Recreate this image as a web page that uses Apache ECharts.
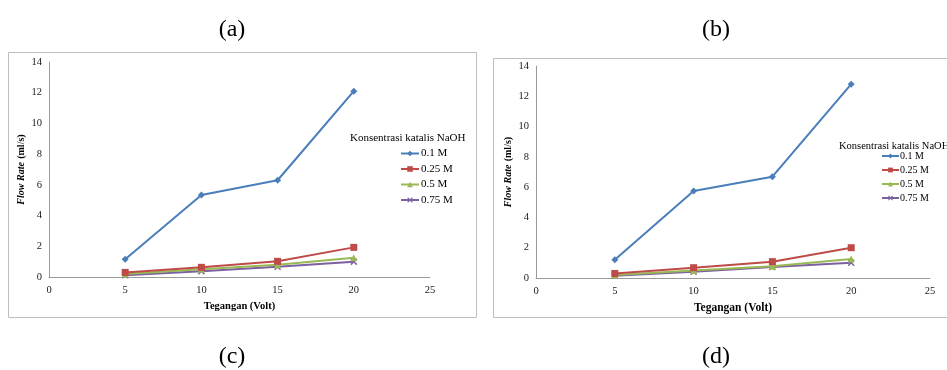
<!DOCTYPE html>
<html>
<head>
<meta charset="utf-8">
<script src="https://cdn.jsdelivr.net/npm/echarts@6/dist/echarts.min.js"></script>
<style>
  html, body { margin: 0; padding: 0; background: #fff; }
  #chart { width: 947px; height: 370px; }
</style>
</head>
<body>
<div id="chart"></div>
<script>
const voltages = [5, 10, 15, 20];
const seriesNames = ["0.1 M", "0.25 M", "0.5 M", "0.75 M"];

// panel (a)
const a_01 = [1.15, 5.34, 6.3, 12.1];
const a_025 = [0.3, 0.63, 1.02, 1.93];
const a_05 = [0.2, 0.5, 0.8, 1.26];
const a_075 = [0.12, 0.38, 0.67, 1.0];

// panel (b)
const b_01 = [1.21, 5.75, 6.69, 12.8];
const b_025 = [0.3, 0.68, 1.08, 2.0];
const b_05 = [0.2, 0.5, 0.78, 1.25];
const b_075 = [0.15, 0.42, 0.72, 1.01];

const colors = ["#4A7EBB", "#BE4B48", "#98B954", "#7D60A0"];
const symbols = ["diamond", "rect", "triangle", "path://M0,1.5L1.5,0L5,3.5L8.5,0L10,1.5L6.5,5L10,8.5L8.5,10L5,6.5L1.5,10L0,8.5L3.5,5Z"];

const FONT = "Liberation Serif";

function pairs(vals) {
  return vals.map((v, i) => [voltages[i], v]);
}

function makeSeries(prefix, sets, gridIdx) {
  return sets.map((vals, i) => ({
    name: prefix + seriesNames[i],
    type: "line",
    xAxisIndex: gridIdx,
    yAxisIndex: gridIdx,
    data: pairs(vals),
    symbol: symbols[i],
    symbolSize: 7,
    color: colors[i],
    lineStyle: { width: 2, color: colors[i] },
    itemStyle: { color: colors[i] },
    z: 10 - i,
  }));
}

function xAxis(gridIdx, nameSize) {
  return {
    type: "value",
    gridIndex: gridIdx,
    min: 0,
    max: 25,
    interval: 5,
    name: "Tegangan (Volt)",
    nameLocation: "middle",
    nameGap: 22,
    nameTextStyle: { fontFamily: FONT, fontWeight: "bold", fontSize: nameSize, color: "#000" },
    axisLine: { lineStyle: { color: "#9a9a9a", width: 1 } },
    axisTick: { show: false },
    splitLine: { show: false },
    axisLabel: { fontFamily: FONT, fontSize: 10.5, color: "#1a1a1a", margin: 8 },
  };
}

function yAxis(gridIdx, gap) {
  return {
    type: "value",
    gridIndex: gridIdx,
    min: 0,
    max: 14,
    interval: 2,
    name: "{i|Flow Rate} {b|(ml/s)}",
    nameLocation: "middle",
    nameGap: gap,
    nameRotate: 90,
    nameTextStyle: {
      rich: {
        i: { fontFamily: FONT, fontWeight: "bold", fontStyle: "italic", fontSize: 10, color: "#000" },
        b: { fontFamily: FONT, fontWeight: "bold", fontSize: 10, color: "#000" },
      },
    },
    axisLine: { show: true, lineStyle: { color: "#9a9a9a", width: 1 } },
    axisTick: { show: false },
    splitLine: { show: false },
    axisLabel: { fontFamily: FONT, fontSize: 10.5, color: "#1a1a1a", margin: 7 },
  };
}

const chart = echarts.init(document.getElementById("chart"), null, { renderer: "canvas" });

const option = {
  backgroundColor: "#fff",
  animation: false,
  grid: [
    { left: 49, top: 62, width: 381, height: 215 },
    { left: 536, top: 66, width: 394, height: 212 },
  ],
  xAxis: [xAxis(0, 10.5), xAxis(1, 11.5)],
  yAxis: [yAxis(0, 21), yAxis(1, 20)],
  legend: [
    {
      data: seriesNames.map(n => "a:" + n),
      formatter: n => n.slice(2),
      orient: "vertical",
      left: 400,
      top: 148,
      itemWidth: 18,
      itemHeight: 7,
      itemGap: 4.5,
      textStyle: { fontFamily: FONT, fontSize: 11, color: "#000", padding: [0, 0, 0, -3] },
      padding: 0,
      selectedMode: false,
    },
    {
      data: seriesNames.map(n => "b:" + n),
      formatter: n => n.slice(2),
      orient: "vertical",
      left: 881,
      top: 151,
      itemWidth: 17,
      itemHeight: 6,
      itemGap: 4,
      textStyle: { fontFamily: FONT, fontSize: 10, color: "#000", padding: [0, 0, 0, -4] },
      padding: 0,
      selectedMode: false,
    },
  ],
  graphic: [
    { type: "rect", shape: { x: 8.5, y: 52.5, width: 468, height: 265 }, style: { fill: null, stroke: "#bfbfbf", lineWidth: 1 }, silent: true },
    { type: "rect", shape: { x: 493.5, y: 58.5, width: 470, height: 259 }, style: { fill: null, stroke: "#bfbfbf", lineWidth: 1 }, silent: true },
    { type: "text", x: 232, y: 30, style: { text: "(a)", font: "24px " + FONT, fill: "#000", align: "center", verticalAlign: "middle" } },
    { type: "text", x: 716, y: 30, style: { text: "(b)", font: "24px " + FONT, fill: "#000", align: "center", verticalAlign: "middle" } },
    { type: "text", x: 232, y: 357, style: { text: "(c)", font: "24px " + FONT, fill: "#000", align: "center", verticalAlign: "middle" } },
    { type: "text", x: 716, y: 357, style: { text: "(d)", font: "24px " + FONT, fill: "#000", align: "center", verticalAlign: "middle" } },
    { type: "text", x: 350, y: 138, style: { text: "Konsentrasi katalis NaOH", font: "11px " + FONT, fill: "#000", align: "left", verticalAlign: "middle" } },
    { type: "text", x: 839, y: 146, style: { text: "Konsentrasi katalis NaOH", font: "10.5px " + FONT, fill: "#000", align: "left", verticalAlign: "middle" } },
  ],
  series: [
    ...makeSeries("a:", [a_01, a_025, a_05, a_075], 0),
    ...makeSeries("b:", [b_01, b_025, b_05, b_075], 1),
  ],
};

chart.setOption(option);
</script>
</body>
</html>
